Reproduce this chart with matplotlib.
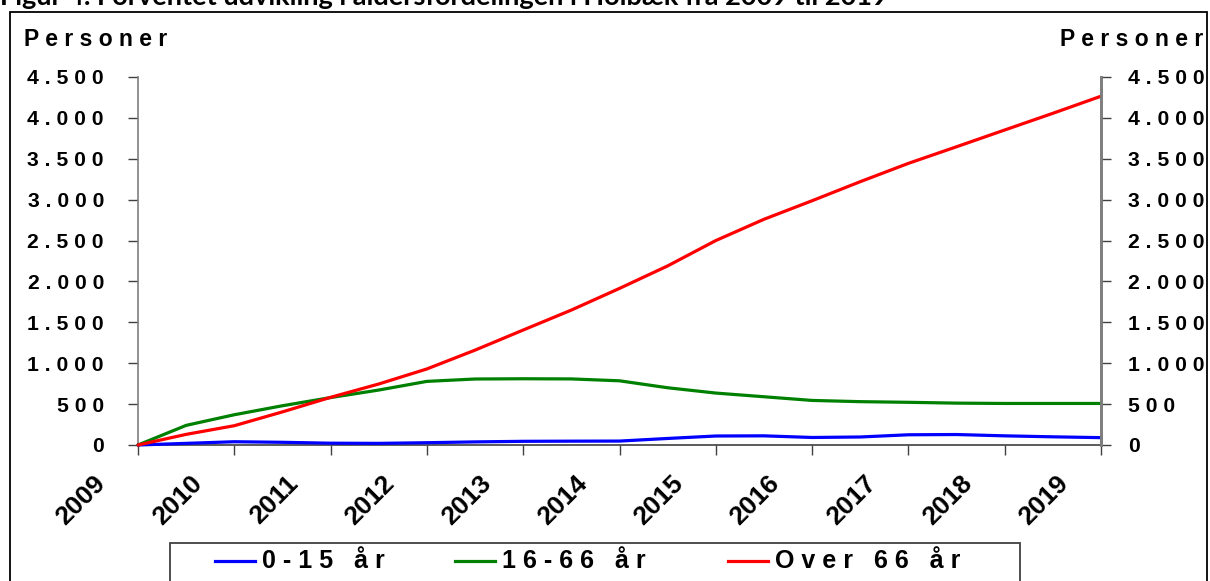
import matplotlib
matplotlib.use("Agg")
import matplotlib.pyplot as plt
from matplotlib.patches import Rectangle
from matplotlib.lines import Line2D
from matplotlib.transforms import ScaledTranslation

# ---------------- data ----------------
title = "Figur 4. Forventet udvikling i aldersfordelingen i Holbæk fra 2009 til 2019"
years = [2009, 2010, 2011, 2012, 2013, 2014, 2015, 2016, 2017, 2018, 2019]
x_points = [2009.0, 2009.5, 2010.0, 2010.5, 2011.0, 2011.5, 2012.0, 2012.5, 2013.0, 2013.5,
            2014.0, 2014.5, 2015.0, 2015.5, 2016.0, 2016.5, 2017.0, 2017.5, 2018.0, 2018.5, 2019.0]
age_0_15 = [0, 20, 40, 33, 22, 20, 28, 38, 45, 47,
            48, 80, 110, 112, 92, 98, 125, 128, 112, 100, 90]
age_16_66 = [0, 240, 370, 480, 580, 672, 778, 807, 810, 808,
             785, 700, 635, 590, 545, 530, 522, 512, 508, 508, 508]
age_over_66 = [0, 130, 236, 405, 583, 746, 930, 1160, 1406, 1650,
               1915, 2190, 2500, 2760, 2987, 3220, 3444, 3647, 3852, 4056, 4265]
series_labels = ["0-15 år", "16-66 år", "Over 66 år"]
series_colors = ["#0000FF", "#008000", "#FF0000"]
y_ticks = [0, 500, 1000, 1500, 2000, 2500, 3000, 3500, 4000, 4500]
y_label = "Personer"

# ---------------- helpers ----------------
def spaced(s):
    return " ".join(s)

def fmt_thousands(v):
    return f"{v:,}".replace(",", ".")

W, H = 1210, 581
DPI = 100
FONT = ["Liberation Sans", "DejaVu Sans"]
plt.rcParams["font.family"] = FONT

fig = plt.figure(figsize=(W / DPI, H / DPI), dpi=DPI)

# outer frame
fig.patches.append(Rectangle((10 / W, -0.05), (1207 - 10) / W, 1 - 12 / H + 0.05,
                             transform=fig.transFigure, fill=False,
                             edgecolor="black", linewidth=1.3))

# partially cut-off title (as in the reference)
fig.text(0 / W, 1 - 5 / H, title, fontsize=19.5, fontweight="bold",
         family=["Lato", "DejaVu Sans"], ha="left", va="baseline")

L, R, B, T = 138, 1101, 445, 77
ax = fig.add_axes([L / W, 1 - B / H, (R - L) / W, (B - T) / H])
ax.set_xlim(2009, 2019)
ax.set_ylim(0, 4500)

series = [age_0_15, age_16_66, age_over_66]
for vals, lab, col in zip(series, series_labels, series_colors):
    ax.plot(x_points, vals, color=col, linewidth=2.3, label=lab,
            solid_joinstyle="round", solid_capstyle="round", clip_on=False, zorder=3)

# spines
ax.spines["top"].set_visible(False)
ax.spines["left"].set_color("#7f7f7f")
ax.spines["left"].set_linewidth(1.2)
ax.spines["bottom"].set_color("#404040")
ax.spines["bottom"].set_linewidth(1.2)
ax.spines["right"].set_color("#7f7f7f")
ax.spines["right"].set_linewidth(2.0)

label_size = 15.2
ax.set_yticks(y_ticks)
ax.set_yticklabels([spaced(fmt_thousands(v)) for v in y_ticks],
                   fontsize=label_size, fontweight="bold")
ax.tick_params(axis="y", direction="out", length=7.5, width=1.0, color="#404040", pad=17)

ax2 = ax.twinx()
ax2.set_ylim(0, 4500)
for s in ["top", "left", "bottom"]:
    ax2.spines[s].set_visible(False)
ax2.spines["right"].set_color("#7f7f7f")
ax2.spines["right"].set_linewidth(2.0)
ax2.set_yticks(y_ticks)
ax2.set_yticklabels([spaced(fmt_thousands(v)) for v in y_ticks],
                    fontsize=label_size, fontweight="bold")
ax2.tick_params(axis="y", direction="out", length=7.5, width=1.0, color="#404040", pad=12)

ax.set_xticks(years)
ax.set_xticklabels([str(y) for y in years], fontsize=19, fontweight="bold",
                   rotation=45, ha="right", va="center", rotation_mode="anchor")
ax.tick_params(axis="x", direction="out", length=7, width=1.0, color="#404040", pad=0)
off = ScaledTranslation(-0.36, -0.25, fig.dpi_scale_trans)
for lbl in ax.get_xticklabels():
    lbl.set_transform(lbl.get_transform() + off)

# axis titles
fig.text(24 / W, 1 - 40 / H, spaced(y_label), fontsize=16.5, fontweight="bold",
         ha="left", va="center")
fig.text(1203 / W, 1 - 40 / H, spaced(y_label), fontsize=16.5, fontweight="bold",
         ha="right", va="center")

# legend box with entries
fig.patches.append(Rectangle((170 / W, -0.05), (1020 - 170) / W, (581 - 543) / H + 0.05,
                             transform=fig.transFigure, fill=False,
                             edgecolor="#404040", linewidth=1.3))
legend_line_x = [215, 455, 728]
ly = 1 - 561 / H
for x0, lab, col in zip(legend_line_x, series_labels, series_colors):
    fig.lines.append(Line2D([x0 / W, (x0 + 40) / W], [ly, ly], transform=fig.transFigure,
                            color=col, linewidth=2.3))
    fig.text((x0 + 47) / W, ly, spaced(lab), fontsize=18, fontweight="bold",
             ha="left", va="center")

fig.savefig("out.png", dpi=DPI)
